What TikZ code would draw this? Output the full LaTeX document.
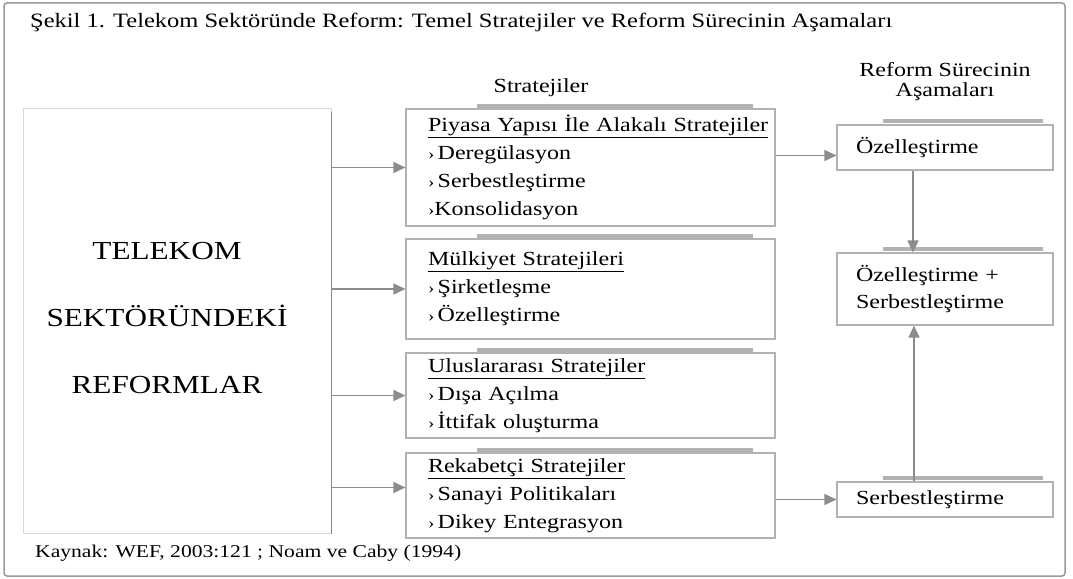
\documentclass[tikz,border=0pt]{standalone}
\usepackage{fontspec}
\setmainfont[FakeStretch=1.2]{Liberation Serif}
\usetikzlibrary{arrows.meta}

\begin{document}
\begin{tikzpicture}[x=1pt,y=-1pt,
    txt/.style={font=\fontsize{20}{28}\selectfont,inner sep=0pt},
    stratbox/.style={draw=black!30,line width=1.2pt,fill=white,inner xsep=22pt,inner ysep=0pt,
      text width=325pt,minimum width=369pt,align=left,font=\fontsize{20}{28}\selectfont},
    stagebox/.style={draw=black!30,line width=1.2pt,fill=white,inner xsep=19pt,inner ysep=0pt,
      text width=178pt,minimum width=216pt,align=left,font=\fontsize{20}{27}\selectfont},
    shadowbar/.style={draw=black!30,line width=3.5pt},
    arr/.style={draw=black!45,line width=1.6pt,-{Triangle[length=12pt,width=11pt]}}]
  \useasboundingbox (0,0) rectangle (1073,578);
  \draw[black!40,line width=1.5pt,rounded corners=3pt] (4,3) rectangle (1065,576);
  \newcommand{\itm}{{\fontsize{16}{16}\selectfont ›}\,}

  \node[txt,anchor=west,font=\fontsize{20.4}{28}\selectfont] (title) at (30,22) {Şekil 1. Telekom Sektöründe Reform: Temel Stratejiler ve Reform Sürecinin Aşamaları};
  \node[txt] (stratlbl) at (541,88) {Stratejiler};
  \node[txt,align=center,font=\fontsize{20}{20}\selectfont] (stagelbl) at (945,82) {Reform Sürecinin\\Aşamaları};
  \node[txt,anchor=west,font=\fontsize{18}{20}\selectfont] (source) at (35,553) {Kaynak: WEF, 2003:121 ; Noam ve Caby (1994)};

  \node[draw=black!15,line width=1pt,minimum width=308pt,minimum height=425pt] (reform) at (177,320.5) {};
  \node[align=center,font=\fontsize{26}{67}\selectfont] (reformtxt) at ([xshift=-10pt,yshift=2pt]reform.center)
    {TELEKOM\\SEKTÖRÜNDEKİ\\REFORMLAR};
  \draw[black!45,line width=1.6pt] ([yshift=-4pt]reform.north east) -- (reform.south east);

  \draw[shadowbar] (477,106) -- (753,106);
  \draw[shadowbar] (477,236) -- (753,236);
  \draw[shadowbar] (477,350) -- (753,350);
  \draw[shadowbar] (477,450) -- (753,450);
  \node[stratbox,minimum height=117pt] (piyasa) at (590.5,167.5)
    {\underline{Piyasa Yapısı İle Alakalı Stratejiler}\\\itm Deregülasyon\\\itm Serbestleştirme\\{\fontsize{16}{16}\selectfont ›}Konsolidasyon};
  \node[stratbox,minimum height=100pt] (mulkiyet) at (590.5,289)
    {\underline{Mülkiyet Stratejileri}\\\itm Şirketleşme\\\itm Özelleştirme};
  \node[stratbox,minimum height=85pt] (ulus) at (590.5,395.5)
    {\underline{Uluslararası Stratejiler}\\\itm Dışa Açılma\\\itm İttifak oluşturma};
  \node[stratbox,minimum height=85pt] (rekabet) at (590.5,495.5)
    {\underline{Rekabetçi Stratejiler}\\\itm Sanayi Politikaları\\\itm Dikey Entegrasyon};

  \draw[shadowbar] (883,121) -- (1043,121);
  \draw[shadowbar] (883,249) -- (1043,249);
  \draw[shadowbar] (883,478) -- (1043,478);
  \node[stagebox,minimum height=45pt] (ozel) at (945,147.5) {Özelleştirme};
  \node[stagebox,minimum height=72pt] (both) at (945,289) {Özelleştirme +\\Serbestleştirme};
  \node[stagebox,minimum height=35pt] (serbest) at (945,499.5) {Serbestleştirme};

  \draw[arr] (reform.east |- piyasa.west) -- (piyasa.west);
  \draw[arr] (reform.east |- mulkiyet.west) -- (mulkiyet.west);
  \draw[arr] (reform.east |- ulus.west) -- (ulus.west);
  \draw[arr] ([yshift=8pt]reform.east |- rekabet.west) -- ([yshift=8pt]rekabet.west);
  \draw[arr] ([yshift=12pt]piyasa.east) -- ([yshift=12pt]piyasa.east -| ozel.west);
  \draw[arr] (rekabet.east |- serbest.west) -- (serbest.west);
  \draw[arr] ([xshift=-32pt]ozel.south) -- ([xshift=-32pt]ozel.south |- both.north);
  \draw[arr] ([xshift=-31pt]serbest.north) -- ([xshift=-31pt]serbest.north |- both.south);
\end{tikzpicture}
\end{document}
